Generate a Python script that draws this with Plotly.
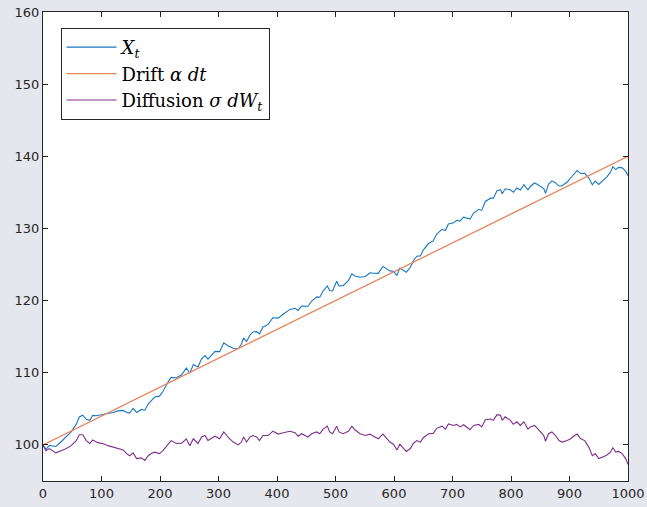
import plotly.graph_objects as go

# time steps
t = [0, 5, 11, 22, 31, 40, 48, 57, 62, 68, 74, 80, 85, 91, 97, 102, 111, 120, 128, 137,
     143, 148, 154, 160, 168, 174, 180, 185, 191, 199, 205, 214, 219, 228, 237, 245, 251, 257, 265, 271,
     277, 282, 288, 294, 302, 309, 316, 325, 334, 339, 343, 348, 354, 359, 365, 370, 376, 385, 393, 402,
     411, 422, 431, 436, 442, 453, 459, 468, 473, 479, 486, 490, 495, 502, 506, 513, 522, 528, 533, 542,
     551, 559, 565, 573, 581, 588, 593, 599, 605, 610, 616, 621, 628, 633, 639, 645, 650, 659, 667, 673,
     682, 688, 693, 702, 707, 713, 719, 730, 736, 745, 750, 756, 765, 770, 776, 782, 785, 790, 799, 804,
     810, 816, 822, 829, 833, 840, 844, 850, 856, 859, 864, 870, 876, 882, 887, 896, 902, 907, 913, 919,
     926, 933, 939, 944, 950, 959, 964, 970, 974, 979, 984, 990, 996, 1000]

# X_t process
x_t = [100.0, 99.4, 99.94, 99.78, 100.44, 101.1, 101.82, 102.88, 103.88, 104.12, 103.56, 103.4, 104.1, 104.04, 104.13, 104.28, 104.34, 104.5, 104.72, 104.78,
       104.52, 104.42, 105.06, 104.5, 104.92, 104.81, 105.7, 106.2, 106.64, 106.76, 107.4, 108.76, 109.36, 109.32, 109.73, 110.65, 109.94, 111.13, 110.8, 111.94,
       112.38, 111.88, 112.37, 112.96, 112.93, 114.16, 113.74, 113.4, 113.36, 113.96, 114.82, 114.32, 115.26, 115.66, 115.7, 115.4, 116.34, 116.7, 117.62, 117.58,
       118.14, 118.78, 118.94, 118.64, 119.23, 119.22, 119.91, 120.52, 120.47, 121.36, 122.04, 121.4, 121.35, 122.68, 122.04, 122.07, 122.78, 123.72, 123.42, 123.23,
       123.34, 123.86, 123.8, 123.77, 124.74, 124.37, 124.12, 124.06, 123.5, 124.5, 124.14, 123.94, 124.62, 125.52, 126.16, 126.2, 127.0, 127.91, 128.28, 129.22,
       129.88, 129.72, 130.62, 130.78, 131.13, 131.02, 131.56, 131.3, 132.14, 132.65, 132.5, 133.74, 134.2, 134.2, 135.24, 135.38, 134.8, 135.5, 135.36, 135.01,
       135.6, 135.34, 136.08, 135.36, 135.82, 136.3, 136.16, 135.8, 135.54, 134.86, 136.11, 136.6, 136.34, 135.88, 135.88, 136.44, 136.93, 137.48, 138.02, 137.61,
       137.64, 137.02, 136.06, 136.56, 136.1, 136.76, 137.16, 137.8, 138.56, 138.16, 138.46, 138.4, 137.94, 137.3]

# Diffusion component
diffusion = [100.0, 99.2, 99.5, 98.9, 99.2, 99.5, 99.9, 100.6, 101.4, 101.4, 100.6, 100.2, 100.7, 100.4, 100.25, 100.2, 99.9, 99.7, 99.6, 99.3,
             98.8, 98.5, 98.9, 98.1, 98.2, 97.85, 98.5, 98.8, 99.0, 98.8, 99.2, 100.2, 100.6, 100.2, 100.25, 100.85, 99.9, 100.85, 100.2, 101.1,
             101.3, 100.6, 100.85, 101.2, 100.85, 101.8, 101.1, 100.4, 100.0, 100.4, 101.1, 100.4, 101.1, 101.3, 101.1, 100.6, 101.3, 101.3, 101.9, 101.5,
             101.7, 101.9, 101.7, 101.2, 101.55, 101.1, 101.55, 101.8, 101.55, 102.2, 102.6, 101.8, 101.55, 102.6, 101.8, 101.55, 101.9, 102.6, 102.1, 101.55,
             101.3, 101.5, 101.2, 100.85, 101.5, 100.85, 100.4, 100.1, 99.3, 100.1, 99.5, 99.1, 99.5, 100.2, 100.6, 100.4, 101.0, 101.55, 101.6, 102.3,
             102.6, 102.2, 102.9, 102.7, 102.85, 102.5, 102.8, 102.1, 102.7, 102.85, 102.5, 103.5, 103.6, 103.4, 104.2, 104.1, 103.4, 103.9, 103.4, 102.85,
             103.2, 102.7, 103.2, 102.2, 102.5, 102.7, 102.4, 101.8, 101.3, 100.5, 101.55, 101.8, 101.3, 100.6, 100.4, 100.6, 100.85, 101.2, 101.5, 100.85,
             100.6, 99.7, 98.5, 98.8, 98.1, 98.4, 98.6, 99.0, 99.6, 99.0, 99.1, 98.8, 98.1, 97.3]

# Drift line endpoints
drift_t = [0, 1000]
drift = [100, 140]

x_ticks = list(range(0, 1001, 100))
y_ticks = [100, 110, 120, 130, 140, 150, 160]

fig = go.Figure()
fig.add_trace(go.Scatter(x=t, y=x_t, mode="lines", name="<i>X</i><sub><i>t</i></sub>",
                         line=dict(color="#1a78c2", width=1.1)))
fig.add_trace(go.Scatter(x=drift_t, y=drift, mode="lines", name="Drift <i>α dt</i>",
                         line=dict(color="#e8845a", width=1.3)))
fig.add_trace(go.Scatter(x=t, y=diffusion, mode="lines", name="Diffusion <i>σ dW</i><sub><i>t</i></sub>",
                         line=dict(color="#7E2F8E", width=1.1)))

axis_common = dict(showline=True, linecolor="#262626", linewidth=1, mirror="ticks",
                   ticks="inside", ticklen=5, tickcolor="#262626", showgrid=False, zeroline=False,
                   automargin=False,
                   tickfont=dict(family="DejaVu Sans", size=13, color="#262626"))

fig.update_xaxes(range=[0, 1000], tickvals=x_ticks, **axis_common)
fig.update_yaxes(range=[95, 160], tickvals=y_ticks, **axis_common)

fig.update_layout(
    width=647, height=507,
    autosize=False,
    margin=dict(l=43, r=19, t=12, b=26, pad=0),
    paper_bgcolor="#e6e6ee",
    plot_bgcolor="white",
    showlegend=True,
    legend=dict(x=0.03, y=0.966, xanchor="left", yanchor="top",
                bgcolor="white", bordercolor="#262626", borderwidth=1,
                itemwidth=50,
                font=dict(family="DejaVu Serif", size=18, color="black"),
                tracegroupgap=0),
)

fig.write_html("out.html")
